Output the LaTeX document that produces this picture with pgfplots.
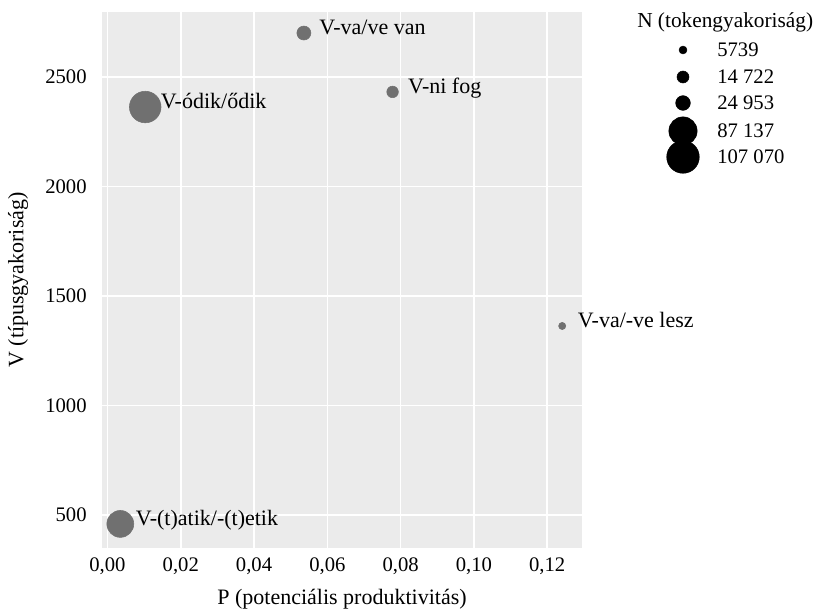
\documentclass[border=0pt]{standalone}
\usepackage{pgfplots}
\pgfplotsset{compat=1.18}
\usepackage{fontspec}
\setmainfont{Liberation Serif}
\definecolor{ggbg}{HTML}{EBEBEB}
\definecolor{ptgrey}{HTML}{707070}
\begin{document}
\begin{tikzpicture}
\begin{axis}[
  at={(0pt,0pt)}, anchor=south west,
  scale only axis, width=360pt, height=402pt,
  xmin=-0.0015, xmax=0.1295, ymin=349, ymax=2797,
  xtick={0,0.02,0.04,0.06,0.08,0.1,0.12},
  ytick={500,1000,1500,2000,2500},
  axis background/.style={fill=ggbg},
  axis line style={draw=none},
  major tick length=0pt, tick style={draw=none},
  grid=major, major grid style={white, line width=1.1pt},
  /pgf/number format/assume math mode=true,
  tick label style={font=\fontsize{15.5}{18}\selectfont, text=black},
  xticklabel style={yshift=-3.5pt, /pgf/number format/.cd, fixed, fixed zerofill, precision=2, use comma},
  yticklabel style={xshift=-8pt, /pgf/number format/.cd, 1000 sep={}},
  xlabel={P (potenciális produktivitás)},
  ylabel={V (típusgyakoriság)},
  label style={font=\fontsize{16.5}{19}\selectfont},
  xlabel style={at={(axis description cs:0.5,-0.095)}, anchor=center},
  ylabel style={at={(axis description cs:-0.175,0.5)}, anchor=center},
  clip=false,
  every node near coord/.append style={text=black, anchor=base west, inner sep=0pt, xshift=11.5pt, yshift=-1pt, font=\fontsize{16.5}{19}\selectfont},
]
\addplot[only marks, mark=*, mark size=11.85pt, color=ptgrey, nodes near coords={V-ódik/ődik}] coordinates {(0.0103,2363)};
\addplot[only marks, mark=*, mark size=10.1pt, color=ptgrey, nodes near coords={V-(t)atik/-(t)etik}] coordinates {(0.0035,459)};
\addplot[only marks, mark=*, mark size=5.25pt, color=ptgrey, nodes near coords={V-va/ve van}] coordinates {(0.0536,2701)};
\addplot[only marks, mark=*, mark size=4.35pt, color=ptgrey, nodes near coords={V-ni fog}] coordinates {(0.0778,2432)};
\addplot[only marks, mark=*, mark size=2.7pt, color=ptgrey, nodes near coords={V-va/-ve lesz}] coordinates {(0.1241,1363)};
\end{axis}
\begin{axis}[
  at={(403.5pt,283.5pt)}, anchor=south west,
  scale only axis, width=75pt, height=97.5pt,
  xmin=0, xmax=100, ymin=-170, ymax=-40,
  hide axis, clip=false,
]
\addplot[only marks, mark=*, mark size=2.95pt, color=black] coordinates {(43,-50)};
\addplot[only marks, mark=*, mark size=4.5pt, color=black] coordinates {(43,-77)};
\addplot[only marks, mark=*, mark size=5.5pt, color=black] coordinates {(43,-103)};
\addplot[only marks, mark=*, mark size=10.6pt, color=black] coordinates {(43,-131)};
\addplot[only marks, mark=*, mark size=12.2pt, color=black] coordinates {(43,-157)};
\addplot[draw=none, mark=none, nodes near coords, point meta=explicit symbolic,
  every node near coord/.append style={anchor=west, inner sep=0pt, text=black, font=\fontsize{15.5}{18}\selectfont}]
  table[x=x, y=y, meta=lab, col sep=comma]{
x,y,lab
77,-50,5739
77,-77,14 722
77,-103,24 953
77,-131,87 137
77,-157,107 070
};
\node[anchor=west, inner sep=0pt, font=\fontsize{16}{19}\selectfont] at (axis cs:-3,-22) {N (tokengyakoriság)};
\end{axis}
\pgfresetboundingbox
\path (-76.5pt,-48pt) rectangle (537pt,411pt);
\end{tikzpicture}
\end{document}
